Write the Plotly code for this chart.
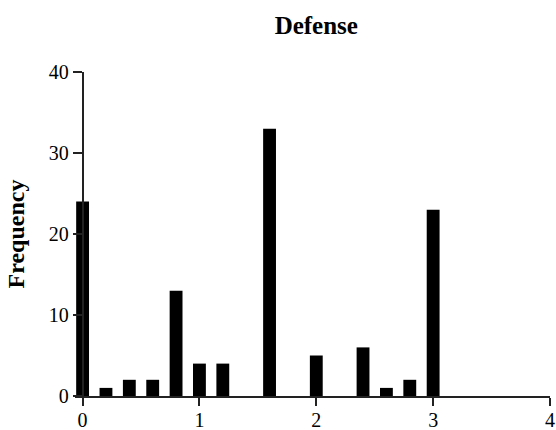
import plotly.graph_objects as go

bin_centers = [0.0, 0.2, 0.4, 0.6, 0.8, 1.0, 1.2, 1.6, 2.0, 2.4, 2.6, 2.8, 3.0]
frequency = [24, 1, 2, 2, 13, 4, 4, 33, 5, 6, 1, 2, 23]
x_ticks = [0, 1, 2, 3, 4]
y_ticks = [0, 10, 20, 30, 40]

x_min, x_max = 0, 4
pad = 0.065  # room so the first bar is not clipped

fig = go.Figure(go.Bar(
    x=bin_centers, y=frequency, width=0.11,
    marker=dict(color="black", line=dict(width=0)),
))

font = "Liberation Serif"
axis_col = "#222"
fig.update_layout(
    width=556, height=430,
    margin=dict(l=75, r=6, t=72, b=34),
    plot_bgcolor="white", paper_bgcolor="white",
    showlegend=False,
    font=dict(family=font, size=20, color="black"),
    title=dict(text="<b>Defense</b>", x=(0.5 * (x_min + x_max) + pad) / (x_max + pad),
               xref="paper", xanchor="center",
               y=1 - 25 / 430, yref="container", yanchor="middle",
               font=dict(family=font, size=25, color="black")),
)
fig.update_xaxes(
    range=[x_min - pad, x_max], tickvals=x_ticks, ticktext=[str(v) for v in x_ticks],
    showgrid=False, zeroline=False, showline=True, linecolor=axis_col, linewidth=1.5,
    ticks="outside", ticklen=8, tickwidth=1.5, tickcolor=axis_col,
    tickfont=dict(family=font, size=20, color="black"),
    ticklabelstandoff=-3,
    automargin=False,
)
fig.update_yaxes(
    range=[0, 40], tickvals=y_ticks, ticktext=[str(v) for v in y_ticks],
    anchor="free", position=pad / (x_max - x_min + pad),
    showgrid=False, zeroline=False, showline=True, linecolor=axis_col, linewidth=1.5,
    ticks="outside", ticklen=9, tickwidth=1.5, tickcolor=axis_col,
    tickfont=dict(family=font, size=20, color="black"),
    automargin=False,
    title=dict(text="<b>Frequency</b>", standoff=16,
               font=dict(family=font, size=24, color="black")),
)

fig.write_html("out.html")
